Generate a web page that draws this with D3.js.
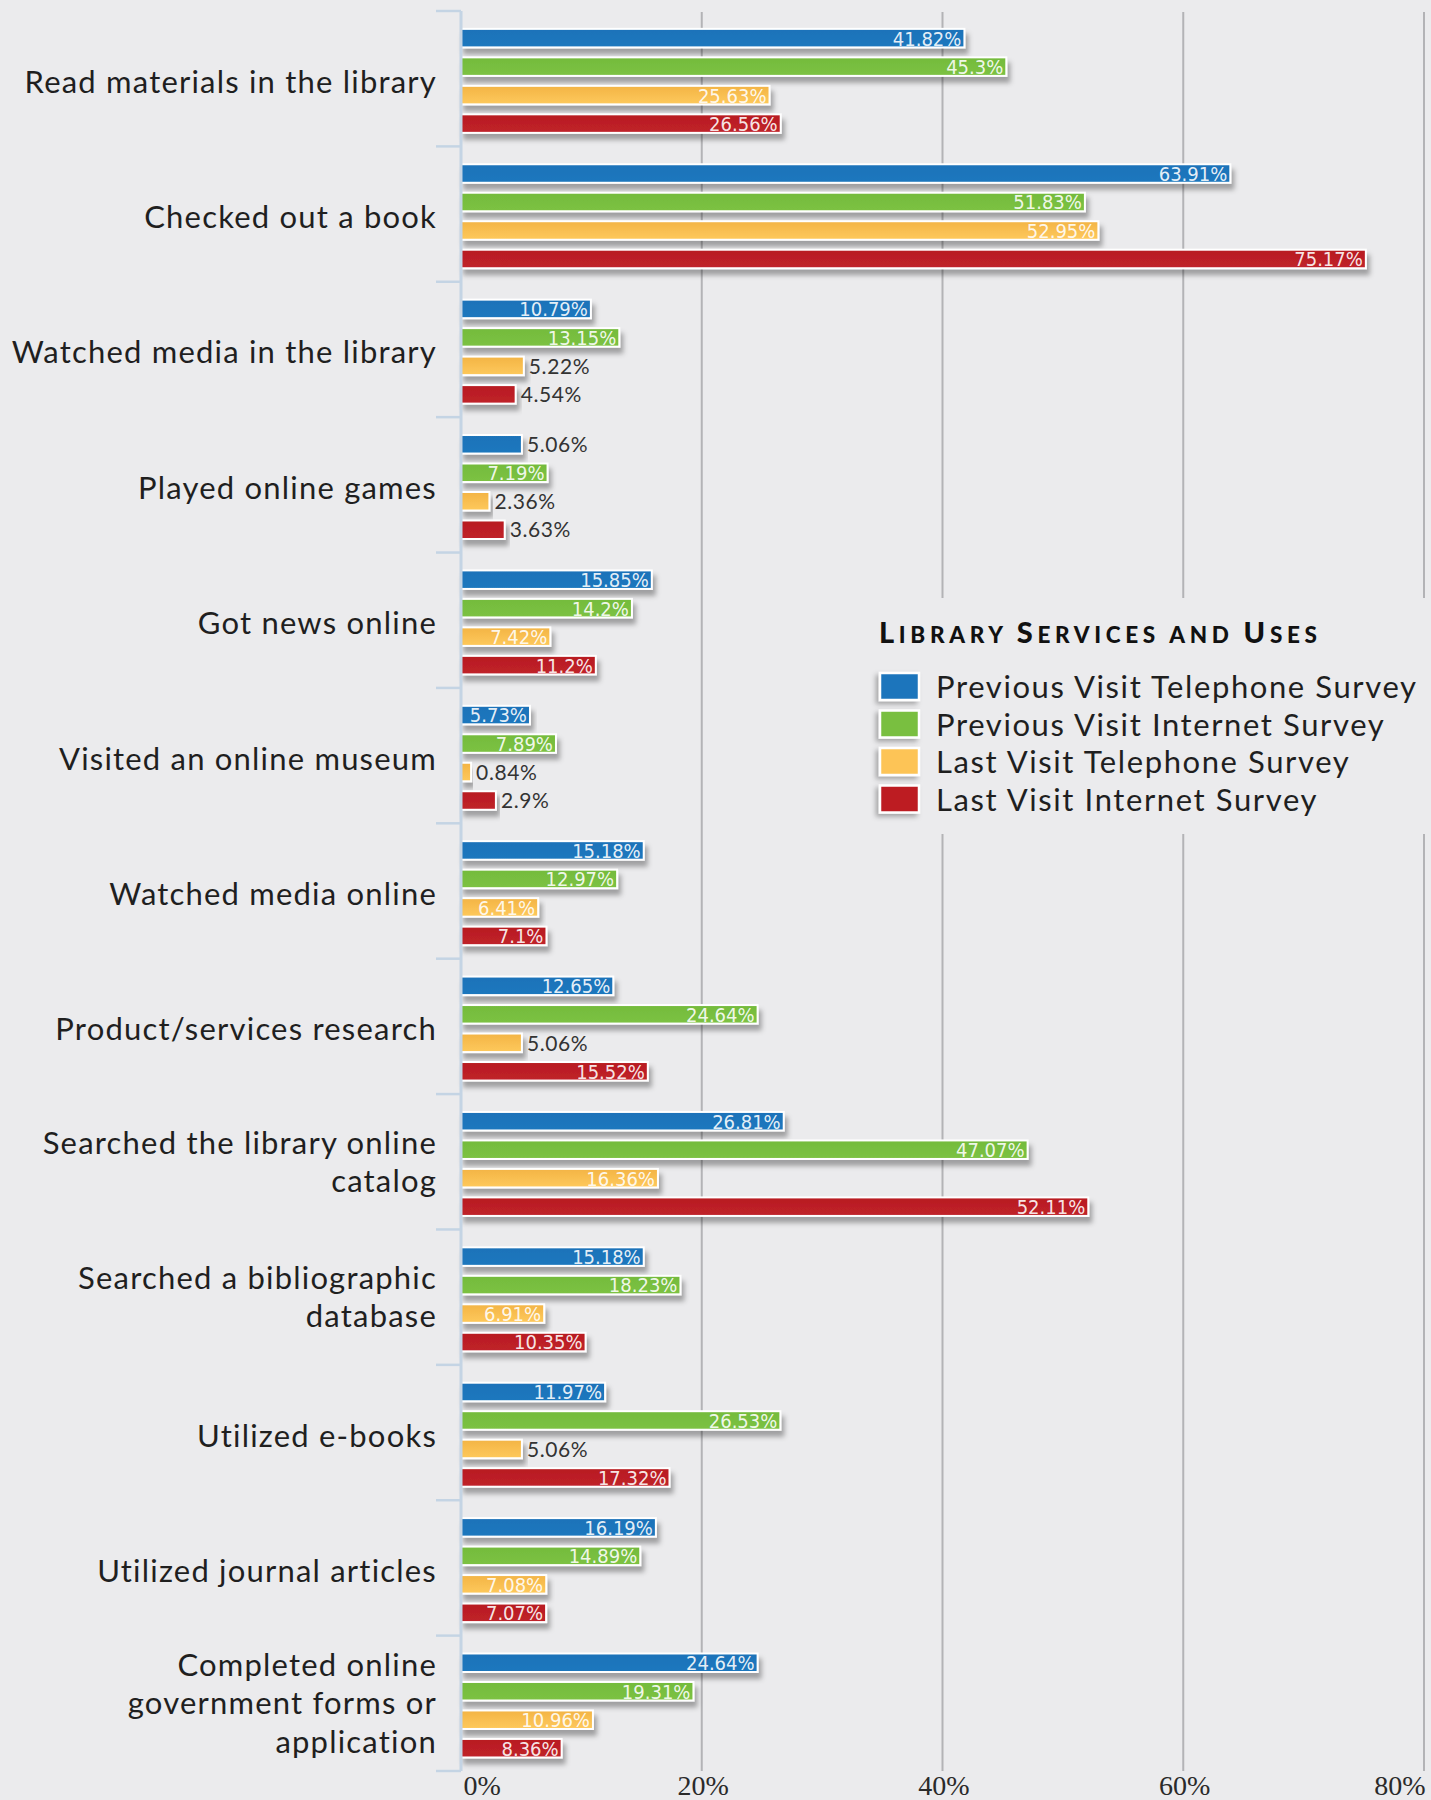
<!DOCTYPE html>
<html>
<head>
<meta charset="utf-8">
<script src="https://cdn.jsdelivr.net/npm/d3@7"></script>
<style>
  html, body { margin: 0; padding: 0; background: #ebebed; }
  svg { display: block; }
</style>
</head>
<body>
<svg id="chart" width="1431" height="1800"></svg>
<script>
// ---- data ----
const categories = [
  "Read materials in the library",
  "Checked out a book",
  "Watched media in the library",
  "Played online games",
  "Got news online",
  "Visited an online museum",
  "Watched media online",
  "Product/services research",
  "Searched the library online catalog",
  "Searched a bibliographic database",
  "Utilized e-books",
  "Utilized journal articles",
  "Completed online government forms or application"
];

// category labels broken into the lines they are drawn on
const categoryLines = [
  ["Read materials in the library"],
  ["Checked out a book"],
  ["Watched media in the library"],
  ["Played online games"],
  ["Got news online"],
  ["Visited an online museum"],
  ["Watched media online"],
  ["Product/services research"],
  ["Searched the library online", "catalog"],
  ["Searched a bibliographic", "database"],
  ["Utilized e-books"],
  ["Utilized journal articles"],
  ["Completed online", "government forms or", "application"]
];

const seriesNames = [
  "Previous Visit Telephone Survey",
  "Previous Visit Internet Survey",
  "Last Visit Telephone Survey",
  "Last Visit Internet Survey"
];

const previousTelephone = [41.82, 63.91, 10.79, 5.06, 15.85, 5.73, 15.18, 12.65, 26.81, 15.18, 11.97, 16.19, 24.64];
const previousInternet  = [45.3, 51.83, 13.15, 7.19, 14.2, 7.89, 12.97, 24.64, 47.07, 18.23, 26.53, 14.89, 19.31];
const lastTelephone     = [25.63, 52.95, 5.22, 2.36, 7.42, 0.84, 6.41, 5.06, 16.36, 6.91, 5.06, 7.08, 10.96];
const lastInternet      = [26.56, 75.17, 4.54, 3.63, 11.2, 2.9, 7.1, 15.52, 52.11, 10.35, 17.32, 7.07, 8.36];

const xTickValues = [0, 20, 40, 60, 80];
const xTickLabels = ["0%", "20%", "40%", "60%", "80%"];

const legendTitle = [["L", true], ["IBRARY ", false], ["S", true], ["ERVICES AND ", false], ["U", true], ["SES", false]];

// ---- styling ----
const seriesValues = [previousTelephone, previousInternet, lastTelephone, lastInternet];
const colorTop    = ["#1a72b9", "#74bb3c", "#f3b445", "#b81c22"];
const colorBottom = ["#1d78be", "#7cc243", "#fec95c", "#c0222a"];
const colorSwatch = ["#1c75bc", "#79bf40", "#fdc456", "#bd1e24"];

const W = 1431, H = 1800;
const plot = { left: 461, right: 1424, top: 11, bottom: 1771 };
const labelFont = "'Lato', 'DejaVu Sans', sans-serif";

const svg = d3.select("#chart");
svg.append("rect").attr("width", W).attr("height", H).attr("fill", "#ebebed");

const defs = svg.append("defs");
const shadow = defs.append("filter").attr("id", "barShadow")
  .attr("x", "-5%").attr("y", "-40%").attr("width", "115%").attr("height", "220%");
shadow.append("feDropShadow").attr("dx", 3).attr("dy", 6).attr("stdDeviation", 2.6)
  .attr("flood-color", "#000").attr("flood-opacity", 0.32);

const swShadow = defs.append("filter").attr("id", "swatchShadow")
  .attr("x", "-40%").attr("y", "-40%").attr("width", "180%").attr("height", "180%");
swShadow.append("feDropShadow").attr("dx", -3).attr("dy", 3).attr("stdDeviation", 2.5)
  .attr("flood-color", "#000").attr("flood-opacity", 0.3);

seriesNames.forEach((s, i) => {
  const g = defs.append("linearGradient").attr("id", "grad" + i)
    .attr("x1", 0).attr("y1", 0).attr("x2", 0).attr("y2", 1);
  g.append("stop").attr("offset", "0%").attr("stop-color", colorTop[i]);
  g.append("stop").attr("offset", "100%").attr("stop-color", colorBottom[i]);
});

// ---- scales ----
const x = d3.scaleLinear().domain([0, 80]).range([plot.left, plot.right]);
const y0 = d3.scaleBand().domain(categories).range([plot.top, plot.bottom]);
const bw = y0.bandwidth();
const y1 = d3.scaleBand().domain(seriesNames).range([bw * 0.132, bw * 0.9]).paddingInner(0.35);

// ---- gridlines ----
svg.append("g").selectAll("line")
  .data(xTickValues.filter(d => d > 0))
  .join("line")
  .attr("x1", d => x(d)).attr("x2", d => x(d))
  .attr("y1", plot.top + 1).attr("y2", plot.bottom)
  .attr("stroke", "#b3b3b6").attr("stroke-width", 2);

// ---- x axis labels ----
const xAxis = d3.axisBottom(x).tickValues(xTickValues)
  .tickFormat((d, i) => xTickLabels[i]).tickSize(0);
const xg = svg.append("g").attr("transform", `translate(0,${plot.bottom})`).call(xAxis);
xg.select(".domain").remove();
xg.selectAll("text")
  .attr("y", 24).attr("dy", 0)
  .attr("font-family", "'Liberation Serif', 'Times New Roman', serif")
  .attr("font-size", 28).attr("fill", "#2a2a2a")
  .attr("text-anchor", (d, i) => i === 0 ? "start" : (i === xTickValues.length - 1 ? "end" : "middle"))
  .attr("dx", (d, i) => i === 0 ? 2 : 1);

// ---- legend panel (hides gridlines behind it) ----
const legend = svg.append("g");
legend.append("rect").attr("x", 866).attr("y", 598).attr("width", W - 866).attr("height", 236)
  .attr("fill", "#ebebed");

// ---- bars ----
const groups = svg.append("g").selectAll("g.cat")
  .data(categories)
  .join("g").attr("class", "cat")
  .attr("transform", d => `translate(0,${y0(d)})`);

const barData = (c, ci) => seriesNames.map((s, si) => ({ s, si, v: seriesValues[si][ci] }));
const inside = v => v > 5.5;

groups.each(function (c, ci) {
  const g = d3.select(this);
  const items = barData(c, ci);
  g.selectAll("rect.bar").data(items).join("rect")
    .attr("class", "bar")
    .attr("x", x(0))
    .attr("y", d => y1(d.s))
    .attr("width", d => x(d.v) - x(0))
    .attr("height", y1.bandwidth())
    .attr("fill", d => `url(#grad${d.si})`)
    .attr("stroke", "#ffffff").attr("stroke-width", 2)
    .attr("filter", "url(#barShadow)");

  g.selectAll("text.val").data(items).join("text")
    .attr("class", "val")
    .attr("x", d => inside(d.v) ? x(d.v) - 3 : x(d.v) + 5)
    .attr("y", d => y1(d.s) + y1.bandwidth() / 2)
    .attr("dy", "0.37em")
    .attr("text-anchor", d => inside(d.v) ? "end" : "start")
    .attr("font-family", d => inside(d.v) ? "'DejaVu Sans Condensed', 'DejaVu Sans', sans-serif" : labelFont)
    .attr("font-stretch", d => inside(d.v) ? "condensed" : "normal")
    .attr("font-weight", d => inside(d.v) ? 200 : 400)
    .attr("font-size", d => inside(d.v) ? 20 : 21)
    .attr("letter-spacing", d => inside(d.v) ? 0 : 0.6)
    .attr("fill", d => inside(d.v) ? "#ffffff" : "#333333")
    .attr("fill-opacity", d => inside(d.v) ? 0.9 : 1)
    .text(d => d.v + "%");
});

// ---- category axis ----
const axisG = svg.append("g");
axisG.append("line")
  .attr("x1", plot.left).attr("x2", plot.left)
  .attr("y1", plot.top).attr("y2", plot.bottom)
  .attr("stroke", "#c4d4e4").attr("stroke-width", 3);
const boundaries = categories.map(c => y0(c)).concat([plot.bottom]);
axisG.selectAll("line.tick").data(boundaries).join("line")
  .attr("class", "tick")
  .attr("x1", plot.left - 25).attr("x2", plot.left)
  .attr("y1", d => d).attr("y2", d => d)
  .attr("stroke", "#c4d4e4").attr("stroke-width", 2.5);

const lineGap = 38.5;
svg.append("g").selectAll("text.cat")
  .data(categories)
  .join("text").attr("class", "cat")
  .attr("text-anchor", "end")
  .attr("font-family", labelFont)
  .attr("font-size", 31)
  .attr("letter-spacing", 1.2)
  .attr("fill", "#1f1f1f")
  .each(function (c, ci) {
    const lines = categoryLines[ci];
    const cy = y0(c) + bw / 2 + (lines.length === 1 ? 14 : 11);
    d3.select(this).selectAll("tspan").data(lines).join("tspan")
      .attr("x", 437)
      .attr("y", (l, li) => cy + (li - (lines.length - 1) / 2) * lineGap)
      .text(l => l);
  });

// ---- legend ----
const title = legend.append("text")
  .attr("x", 879).attr("y", 643)
  .attr("font-family", "'Lato', 'DejaVu Sans', sans-serif")
  .attr("font-weight", 900)
  .attr("fill", "#111")
  .attr("textLength", 438).attr("lengthAdjust", "spacing");
title.selectAll("tspan").data(legendTitle).join("tspan")
  .attr("font-size", d => d[1] ? 29 : 22.5)
  .text(d => d[0]);

const legendY = d3.scaleBand().domain(seriesNames).range([668, 818]);
legend.selectAll("rect.sw").data(seriesNames).join("rect")
  .attr("class", "sw")
  .attr("x", 880).attr("y", d => legendY(d) + 5)
  .attr("width", 39).attr("height", 27)
  .attr("fill", (d, i) => colorSwatch[i])
  .attr("stroke", "#fff").attr("stroke-width", 2.5)
  .attr("filter", "url(#swatchShadow)");
legend.selectAll("text.lg").data(seriesNames).join("text")
  .attr("class", "lg")
  .attr("x", 936).attr("y", d => legendY(d) + 30)
  .attr("font-family", labelFont)
  .attr("font-size", 31)
  .attr("letter-spacing", 1.6)
  .attr("fill", "#1f1f1f")
  .text(d => d);
</script>
</body>
</html>
